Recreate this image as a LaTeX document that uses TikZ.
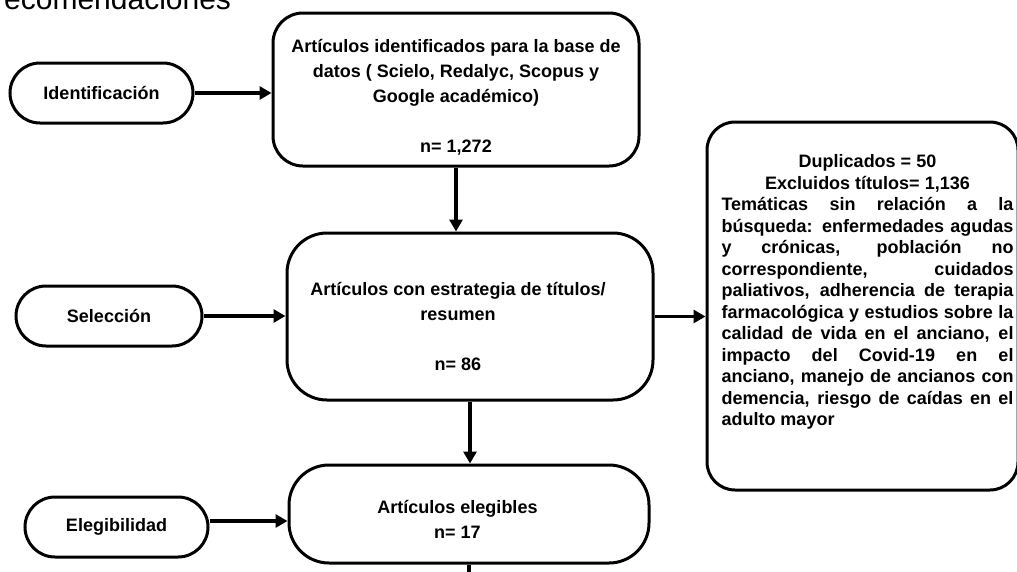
\documentclass[tikz,border=0pt]{standalone}
\usepackage{fontspec}
\setmainfont{Liberation Sans}
\usetikzlibrary{arrows.meta}
\begin{document}
\begin{tikzpicture}[x=1pt,y=-1pt,
      stage/.style={draw,line width=3pt,rounded corners=30pt,
        minimum height=60pt,inner sep=0pt,
        font=\bfseries\fontsize{18}{22}\selectfont},
      card/.style={draw,line width=3pt,rounded corners=#1,inner sep=0pt},
      card/.default=30pt,
      txt/.style={align=center,inner sep=0pt,
        font=\bfseries\fontsize{18}{25}\selectfont},
      link/.style={line width=3.4pt,-{Triangle[length=12pt,width=13pt]}},
      ]
        \useasboundingbox (0,0) rectangle (1017,571);
        \node [anchor=base west,inner sep=0pt,font=\fontsize{30}{36}\selectfont]
          (head) at (4,9) {ecomendaciones};

        \node [stage,minimum width=183pt] (ident) at (101.5,93) {Identificación};
        \node [stage,minimum width=186pt] (sel) at (109,316) {Selección};
        \node [stage,minimum width=183pt] (elig) at (116.5,527) {Elegibilidad};

        \node [card,minimum width=366pt,minimum height=153pt] (b1) at (456,89.5) {};
        \node [card=40pt,minimum width=366pt,minimum height=167pt] (b2) at (470,316.5) {};
        \node [card=40pt,minimum width=360pt,minimum height=98pt] (b3) at (469,514) {};
        \node [card=28pt,minimum width=311pt,minimum height=368pt] (excl) at (862.5,306) {};

        \node [txt] (t1) at (456,97) {Artículos identificados para la base de\\
          datos ( Scielo, Redalyc, Scopus y\\Google académico)\\[25pt]n= 1,272};
        \node [txt] (t2) at (458,326) {Artículos con estrategia de títulos/\\
          resumen\\[25pt]n= 86};
        \node [txt] (t3) at (457.5,519.5) {Artículos elegibles\\n= 17};
        \node [txt,align=justify,text width=292pt,
          font=\bfseries\fontsize{18}{21.5}\selectfont] (t4) at (867.5,292)
          {\parindent=0pt{\centering Duplicados = 50\\Excluidos títulos= 1,136\par}
          Temáticas sin relación a la\linebreak
          búsqueda: enfermedades agudas\linebreak
          y crónicas, población no\linebreak
          correspondiente, cuidados\linebreak
          paliativos, adherencia de terapia\linebreak
          farmacológica y estudios sobre la\linebreak
          calidad de vida en el anciano, el\linebreak
          impacto del Covid-19 en el\linebreak
          anciano, manejo de ancianos con\linebreak
          demencia, riesgo de caídas en el\linebreak
          adulto mayor};

        \draw [link] (ident.east) -- (ident.east -| b1.west);
        \draw [link] (sel.east) -- (sel.east -| b2.west);
        \draw [link] ([yshift=6pt]elig.east) -- ([yshift=6pt]elig.east -| b3.west);
        \draw [link] (b1.south) -- (b1.south |- b2.north);
        \draw [link] (b2.south) -- (b2.south |- b3.north);
        \draw [link] (b2.east) -- (b2.east -| excl.west);
        \coordinate (tail) at (470,575);
        \draw [line width=3.4pt] (b3.south) -- (b3.south |- tail);
      \end{tikzpicture}
\end{document}
